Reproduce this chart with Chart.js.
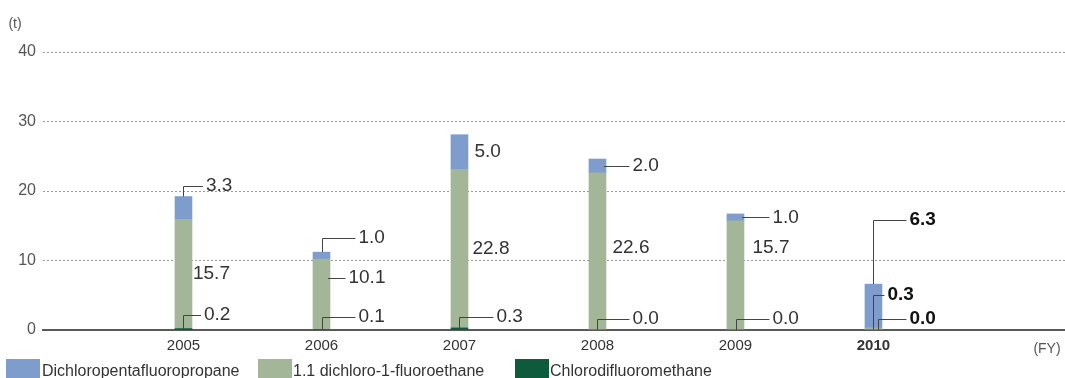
<!DOCTYPE html>
<html>
<head>
<meta charset="utf-8">
<script src="https://cdn.jsdelivr.net/npm/chart.js@4"></script>
<style>
  html, body { margin: 0; padding: 0; background: #fff; }
  #wrap { width: 1065px; height: 378px; }
</style>
</head>
<body>
<div id="wrap"><canvas id="c" width="1065" height="378"></canvas></div>
<script>
// Fiscal years and emissions (t) per substance
const years = ['2005', '2006', '2007', '2008', '2009', '2010'];
const dichloropentafluoropropane = [3.3, 1.0, 5.0, 2.0, 1.0, 6.3];
const dichlorofluoroethane = [15.7, 10.1, 22.8, 22.6, 15.7, 0.3];
const chlorodifluoromethane = [0.2, 0.1, 0.3, 0.0, 0.0, 0.0];
const yTicks = [0, 10, 20, 30, 40];
const seriesNames = ['Dichloropentafluoropropane', '1.1 dichloro-1-fluoroethane', 'Chlorodifluoromethane'];

const COL = { blue: '#7f9dcc', green: '#a3b697', dark: '#0d5a3c' };
const FONT = 'Liberation Sans, Arial, sans-serif';

// Placement of the value labels: leader style, text offset from the bar centre (px),
// optional label height in axis units (default: middle of the segment), leader x shift.
const labelLayout = {
  top: [
    { lead: 'elbow', dx: 22.5, at: 20.7 },
    { lead: 'elbow', dx: 37, at: 13.2, shift: 1 },
    { lead: 'none', dx: 15 },
    { lead: 'side', dx: 35 },
    { lead: 'side', dx: 37 },
    { lead: 'elbow', dx: 36, at: 15.8 }
  ],
  middle: [
    { lead: 'none', dx: 9.5 },
    { lead: 'side', dx: 27, at: 7.5 },
    { lead: 'none', dx: 13 },
    { lead: 'none', dx: 15, at: 11.8 },
    { lead: 'none', dx: 17, at: 11.8 },
    { lead: 'elbow', dx: 14, at: 5.0 }
  ],
  bottom: [
    { lead: 'elbow', dx: 20.5, at: 2.2 },
    { lead: 'elbow', dx: 37, at: 1.87, shift: 1 },
    { lead: 'elbow', dx: 37, at: 1.87 },
    { lead: 'elbow', dx: 35, at: 1.6 },
    { lead: 'elbow', dx: 37, at: 1.6, shift: 1 },
    { lead: 'elbow', dx: 36, at: 1.6, shift: 5 }
  ]
};

const toPoints = arr => arr.map((v, i) => ({ x: i, y: v }));

// value labels with their leader lines
const valueLabels = {
  id: 'valueLabels',
  afterDatasetsDraw(chart) {
    const ctx = chart.ctx;
    const yScale = chart.scales.y;
    const rows = [['bottom', 0], ['middle', 1], ['top', 2]];
    ctx.save();
    rows.forEach(([row, d]) => {
      const meta = chart.getDatasetMeta(d);
      const values = chart.data.datasets[d].data;
      meta.data.forEach((bar, i) => {
        const lay = labelLayout[row][i];
        const p = bar.getProps(['x', 'y', 'base', 'width'], true);
        const top = Math.min(p.y, p.base), base = Math.max(p.y, p.base);
        const ly = lay.at !== undefined ? yScale.getPixelForValue(lay.at) : (top + base) / 2;
        const tx = p.x + lay.dx;
        const bold = i === years.length - 1;
        ctx.strokeStyle = '#444';
        ctx.lineWidth = 1;
        if (lay.lead === 'elbow') {
          const lx = Math.round(p.x + (lay.shift || 0)) + 0.5;
          const sy = row === 'top' ? top : base;
          ctx.beginPath();
          ctx.moveTo(lx, sy);
          ctx.lineTo(lx, Math.round(ly) + 0.5);
          ctx.lineTo(tx - 3, Math.round(ly) + 0.5);
          ctx.stroke();
        } else if (lay.lead === 'side') {
          ctx.beginPath();
          ctx.moveTo(p.x + p.width / 2 - 2, Math.round(ly) + 0.5);
          ctx.lineTo(tx - 3, Math.round(ly) + 0.5);
          ctx.stroke();
        }
        ctx.fillStyle = bold ? '#111' : '#333';
        ctx.font = (bold ? 'bold ' : '') + '19px ' + FONT;
        ctx.textAlign = 'left';
        ctx.textBaseline = 'middle';
        ctx.fillText(values[i].y.toFixed(1), tx, ly);
      });
    });
    ctx.restore();
  }
};

// unit captions and the legend row
const captions = {
  id: 'captions',
  afterDraw(chart) {
    const ctx = chart.ctx;
    ctx.save();
    ctx.fillStyle = '#555';
    ctx.font = '14px ' + FONT;
    ctx.textBaseline = 'middle';
    ctx.textAlign = 'center';
    ctx.fillText('(t)', 15, 24);
    ctx.fillText('(FY)', 1047, 349);

    const items = chart.data.datasets.slice().reverse();
    const swatchX = [6, 258, 515];
    const textX = [42, 293, 550];
    ctx.font = '16px ' + FONT;
    ctx.textAlign = 'left';
    ctx.textBaseline = 'alphabetic';
    items.forEach((ds, k) => {
      ctx.fillStyle = ds.backgroundColor;
      ctx.fillRect(swatchX[k], 359, 34, 22);
      ctx.fillStyle = '#333';
      ctx.fillText(ds.label, textX[k], 376);
    });
    ctx.restore();
  }
};

new Chart(document.getElementById('c'), {
  type: 'bar',
  data: {
    datasets: [
      { label: seriesNames[2], data: toPoints(chlorodifluoromethane), backgroundColor: COL.dark },
      { label: seriesNames[1], data: toPoints(dichlorofluoroethane), backgroundColor: COL.green },
      { label: seriesNames[0], data: toPoints(dichloropentafluoropropane), backgroundColor: COL.blue }
    ]
  },
  options: {
    responsive: false,
    animation: false,
    devicePixelRatio: 1,
    barThickness: 17,
    layout: { padding: { top: 52, left: 0, right: 0, bottom: 0 } },
    plugins: { legend: { display: false }, tooltip: { enabled: false } },
    scales: {
      x: {
        type: 'linear',
        offset: false,
        min: -1.018,
        max: 6.388,
        stacked: true,
        afterBuildTicks: s => { s.ticks = years.map((_, i) => ({ value: i })); },
        afterFit: s => { s.height = 48; },
        grid: { display: false, drawTicks: false },
        border: { display: true, color: '#5a5a5a', width: 2 },
        ticks: {
          autoSkip: false,
          maxRotation: 0,
          padding: 7,
          color: '#333',
          font: c => ({ family: FONT, size: 15, weight: c.index === years.length - 1 ? 'bold' : 'normal' }),
          callback: v => years[Math.round(v)]
        }
      },
      y: {
        min: 0,
        max: 40,
        stacked: true,
        afterBuildTicks: s => { s.ticks = yTicks.map(v => ({ value: v })); },
        afterFit: s => { s.width = 43; },
        grid: {
          drawTicks: false,
          lineWidth: 1,
          color: c => (c.tick && c.tick.value === 0) ? 'rgba(0,0,0,0)' : '#9a9a9a'
        },
        border: { display: false, dash: [2, 2] },
        ticks: { padding: 7, color: '#555', font: { family: FONT, size: 16 } }
      }
    }
  },
  plugins: [valueLabels, captions]
});
</script>
</body>
</html>
